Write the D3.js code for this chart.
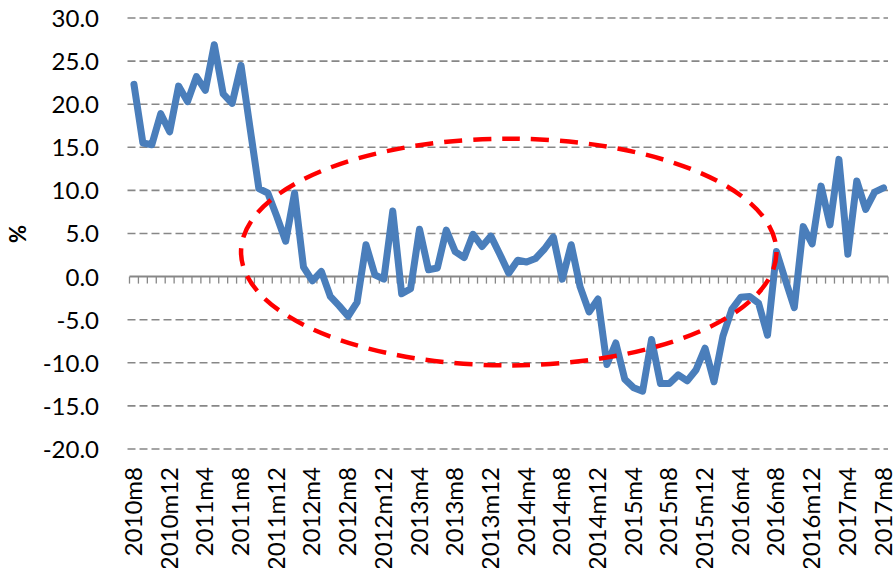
<!DOCTYPE html>
<html>
<head>
<meta charset="utf-8">
<script src="https://cdn.jsdelivr.net/npm/d3@7"></script>
<style>
  html, body { margin: 0; padding: 0; background: #ffffff; }
  svg { display: block; font-family: Lato, "Liberation Sans", sans-serif; }
</style>
</head>
<body>
<svg id="chart" width="893" height="568"></svg>
<script>
// Monthly growth rate, 2010m8 – 2017m8 (%)
const startYear = 2010, startMonth = 8, monthCount = 85;
const months = [];
for (let i = 0; i < monthCount; i++) {
  const m = startMonth - 1 + i;
  months.push((startYear + Math.floor(m / 12)) + "m" + (m % 12 + 1));
}

const growth = [
  22.3, 15.5, 15.3, 18.9, 16.8, 22.1, 20.3, 23.2, 21.6, 26.9,
  21.2, 20.1, 24.5, 17.3, 10.2, 9.7, 7.0, 4.1, 9.7, 1.1,
  -0.5, 0.6, -2.3, -3.4, -4.6, -3.0, 3.7, 0.2, -0.3, 7.6,
  -2.0, -1.4, 5.5, 0.8, 1.0, 5.4, 2.9, 2.2, 4.9, 3.5,
  4.7, 2.6, 0.4, 1.9, 1.7, 2.1, 3.2, 4.6, -0.3, 3.7,
  -1.2, -4.1, -2.6, -10.2, -7.7, -11.9, -12.9, -13.3, -7.3, -12.4,
  -12.4, -11.4, -12.1, -10.8, -8.3, -12.2, -6.9, -3.8, -2.4, -2.3,
  -3.1, -6.8, 2.9, -0.4, -3.6, 5.8, 3.8, 10.5, 6.0, 13.6,
  2.6, 11.1, 7.8, 9.8, 10.3
];

const xTickLabels = [
  "2010m8", "2010m12", "2011m4", "2011m8", "2011m12", "2012m4", "2012m8",
  "2012m12", "2013m4", "2013m8", "2013m12", "2014m4", "2014m8", "2014m12",
  "2015m4", "2015m8", "2015m12", "2016m4", "2016m8", "2016m12", "2017m4", "2017m8"
];
const yTicks = [-20, -15, -10, -5, 0, 5, 10, 15, 20, 25, 30];

// Highlighted stretch: centre month, half-width in months, value range
const highlight = { centre: "2014m2", halfMonths: 30, low: -10.3, high: 16.0 };

const svg = d3.select("#chart");
const plotLeft = 129.5, plotRight = 888, plotTop = 18, plotBottom = 449;

const x = d3.scaleBand().domain(months).range([plotLeft, plotRight]).paddingInner(0).paddingOuter(0);
const bw = x.bandwidth();
const cx = d => x(d) + bw / 2;
const y = d3.scaleLinear().domain([-20, 30]).range([plotBottom, plotTop]);

// Horizontal dashed gridlines
svg.append("g")
  .selectAll("line")
  .data(yTicks.filter(v => v !== 0))
  .join("line")
  .attr("x1", plotLeft - 2).attr("x2", plotRight)
  .attr("y1", d => y(d)).attr("y2", d => y(d))
  .attr("stroke", "#878787")
  .attr("stroke-width", 1.6)
  .attr("stroke-dasharray", "8,4");

// Y labels (plain hyphen for negatives)
const fmt = v => v.toFixed(1);
const yAxis = d3.axisLeft(y).tickValues(yTicks).tickFormat(fmt).tickSize(0).tickPadding(0);
svg.append("g")
  .attr("transform", `translate(99,0)`)
  .call(yAxis)
  .call(g => g.select(".domain").remove())
  .call(g => g.selectAll("text")
    .attr("font-size", 24)
    .attr("font-family", "Lato, 'Liberation Sans', sans-serif")
    .attr("fill", "#000")
    .attr("dy", "0.35em"));

// Zero line with tick marks between months
const zeroY = y(0);
svg.append("line")
  .attr("x1", plotLeft).attr("x2", plotRight)
  .attr("y1", zeroY).attr("y2", zeroY)
  .attr("stroke", "#878787").attr("stroke-width", 2);
const boundaries = months.map(m => x(m)).concat([x(months[months.length - 1]) + bw]);
svg.append("g")
  .selectAll("line")
  .data(boundaries)
  .join("line")
  .attr("x1", d => d).attr("x2", d => d)
  .attr("y1", zeroY).attr("y2", zeroY + 7)
  .attr("stroke", "#878787").attr("stroke-width", 1.3);

// X labels, rotated
svg.append("g")
  .selectAll("text")
  .data(xTickLabels)
  .join("text")
  .attr("transform", d => `translate(${cx(d) + 8},467) rotate(-90)`)
  .attr("text-anchor", "end")
  .attr("font-size", 24)
  .attr("fill", "#000")
  .text(d => d);

// Y axis title
svg.append("text")
  .attr("transform", `translate(26,234) rotate(-90)`)
  .attr("text-anchor", "middle")
  .attr("font-size", 22)
  .attr("font-weight", "bold")
  .attr("fill", "#000")
  .text("%");

// Series line
const line = d3.line()
  .x((d, i) => cx(months[i]))
  .y(d => y(d));
svg.append("path")
  .datum(growth)
  .attr("d", line)
  .attr("fill", "none")
  .attr("stroke", "#4a7ebb")
  .attr("stroke-width", 7)
  .attr("stroke-linejoin", "round")
  .attr("stroke-linecap", "round");

// Dashed ellipse around the highlighted stretch
const ex = cx(highlight.centre);
const erx = highlight.halfMonths * bw;
const ey = (y(highlight.low) + y(highlight.high)) / 2;
const ery = (y(highlight.low) - y(highlight.high)) / 2;
svg.append("ellipse")
  .attr("cx", ex).attr("cy", ey)
  .attr("rx", erx).attr("ry", ery)
  .attr("fill", "none")
  .attr("stroke", "#ff0000")
  .attr("stroke-width", 4.5)
  .attr("stroke-dasharray", "18,11");
</script>
</body>
</html>
